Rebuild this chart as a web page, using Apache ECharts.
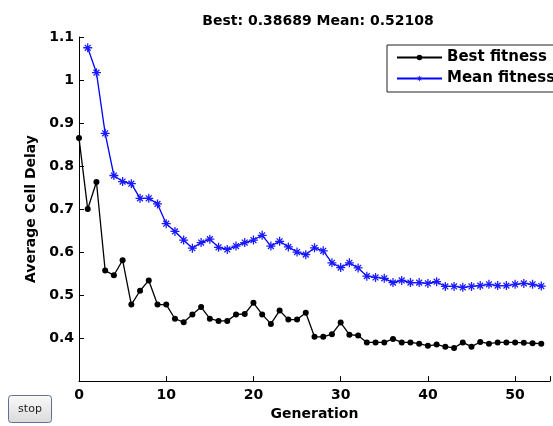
<!DOCTYPE html>
<html>
<head>
<meta charset="utf-8">
<script src="https://cdn.jsdelivr.net/npm/echarts@6/dist/echarts.min.js"></script>
<style>
  html, body { margin: 0; padding: 0; background: #fff; }
  #chart { width: 553px; height: 426px; }
</style>
</head>
<body>
<div id="chart"></div>
<script>
// GA progress: best and mean fitness per generation
var generations = [];
for (var g = 0; g <= 53; g++) generations.push(g);

var best_fitness = [0.865, 0.700, 0.763, 0.557, 0.546, 0.581, 0.478, 0.510, 0.534, 0.478,
    0.478, 0.445, 0.437, 0.455, 0.472, 0.445, 0.440, 0.440, 0.455, 0.456,
    0.482, 0.455, 0.433, 0.464, 0.443, 0.443, 0.459, 0.403, 0.403, 0.409,
    0.436, 0.408, 0.406, 0.390, 0.390, 0.390, 0.398, 0.390, 0.390, 0.387,
    0.382, 0.385, 0.380, 0.377, 0.390, 0.380, 0.391, 0.387, 0.390, 0.390,
    0.390, 0.389, 0.388, 0.387];

// generation 0 mean is off the top of the axes
var mean_fitness = ['-', 1.075, 1.017, 0.876, 0.778, 0.764, 0.759, 0.725, 0.725, 0.712,
    0.666, 0.648, 0.628, 0.609, 0.622, 0.630, 0.611, 0.606, 0.614, 0.622,
    0.628, 0.639, 0.614, 0.625, 0.612, 0.600, 0.594, 0.610, 0.603, 0.575,
    0.564, 0.575, 0.563, 0.544, 0.541, 0.539, 0.529, 0.534, 0.529, 0.529,
    0.527, 0.531, 0.520, 0.520, 0.518, 0.520, 0.522, 0.525, 0.522, 0.522,
    0.525, 0.527, 0.525, 0.521];

var y_ticks = [0.3, 0.4, 0.5, 0.6, 0.7, 0.8, 0.9, 1.0, 1.1];
var x_ticks = [0, 10, 20, 30, 40, 50];

var title_text = 'Best: 0.38689 Mean: 0.52108';

// matlab style '*' marker
var asterisk = 'path://M8.6 0L11.4 0L11.4 20L8.6 20Z M0 8.6L20 8.6L20 11.4L0 11.4Z M2.5 4.5L4.5 2.5L17.5 15.5L15.5 17.5Z M15.5 2.5L17.5 4.5L4.5 17.5L2.5 15.5Z';

var font = 'DejaVu Sans';

function pairs(xs, ys) {
    return xs.map(function (x, i) { return [x, ys[i]]; });
}

var chart = echarts.init(document.getElementById('chart'));

var option = {
    animation: false,
    backgroundColor: '#fff',
    textStyle: { fontFamily: font },
    grid: {
        left: 79,
        top: 37,
        bottom: 41,
        width: 479
    },
    legend: {
        orient: 'vertical',
        left: 387,
        top: 45,
        padding: [5, 12, 6, 9],
        itemWidth: 45,
        itemHeight: 7,
        itemGap: 6,
        backgroundColor: '#fff',
        borderColor: '#222',
        borderWidth: 1,
        textStyle: { fontFamily: font, fontWeight: 'bold', fontSize: 15, color: '#000' },
        data: ['Best fitness', 'Mean fitness']
    },
    xAxis: {
        type: 'value',
        min: 0,
        max: 54,
        interval: 10,
        name: 'Generation',
        nameLocation: 'middle',
        nameGap: 25,
        nameTextStyle: { fontFamily: font, fontWeight: 'bold', fontSize: 14, color: '#000' },
        splitLine: { show: false },
        axisLine: { lineStyle: { color: '#000', width: 1 } },
        axisTick: { inside: true, length: 5, lineStyle: { color: '#000' } },
        axisLabel: {
            margin: 7,
            fontFamily: font, fontWeight: 'bold', fontSize: 14, color: '#000',
            formatter: function (v) { return x_ticks.indexOf(v) >= 0 ? String(v) : ''; }
        }
    },
    yAxis: {
        type: 'value',
        min: 0.3,
        max: 1.1,
        interval: 0.1,
        name: 'Average Cell Delay',
        nameLocation: 'middle',
        nameGap: 39,
        nameTextStyle: { fontFamily: font, fontWeight: 'bold', fontSize: 14, color: '#000' },
        splitLine: { show: false },
        axisLine: { show: true, lineStyle: { color: '#000', width: 1 } },
        axisTick: { show: true, inside: true, length: 5, lineStyle: { color: '#000' } },
        axisLabel: {
            margin: 5,
            fontFamily: font, fontWeight: 'bold', fontSize: 14, color: '#000',
            formatter: function (v) {
                var r = Math.round(v * 10) / 10;
                if (r === y_ticks[0]) return '';
                return String(r);
            }
        }
    },
    series: [
        {
            name: 'Best fitness',
            type: 'line',
            data: pairs(generations, best_fitness),
            symbol: 'circle',
            symbolSize: 6,
            lineStyle: { color: '#000', width: 1.3 },
            itemStyle: { color: '#000' }
        },
        {
            name: 'Mean fitness',
            type: 'line',
            data: pairs(generations, mean_fitness),
            symbol: asterisk,
            symbolSize: 9,
            connectNulls: false,
            lineStyle: { color: '#0000ff', width: 1.3 },
            itemStyle: { color: '#1a1aff' }
        }
    ],
    graphic: [
        {
            type: 'text',
            x: 318,
            y: 21,
            style: {
                text: title_text,
                font: 'bold 14px "DejaVu Sans"',
                fill: '#000',
                textAlign: 'center',
                textVerticalAlign: 'middle'
            }
        },
        {
            type: 'rect',
            shape: { x: 8.5, y: 395.5, width: 43, height: 27, r: 3 },
            style: {
                fill: new echarts.graphic.LinearGradient(0, 0, 0, 1, [
                    { offset: 0, color: '#fafafa' },
                    { offset: 1, color: '#dadada' }
                ]),
                stroke: '#5f7390',
                lineWidth: 1
            }
        },
        {
            type: 'text',
            x: 30,
            y: 409,
            style: {
                text: 'stop',
                font: '11px "DejaVu Sans"',
                fill: '#222',
                textAlign: 'center',
                textVerticalAlign: 'middle'
            }
        }
    ]
};

chart.setOption(option);
</script>
</body>
</html>
